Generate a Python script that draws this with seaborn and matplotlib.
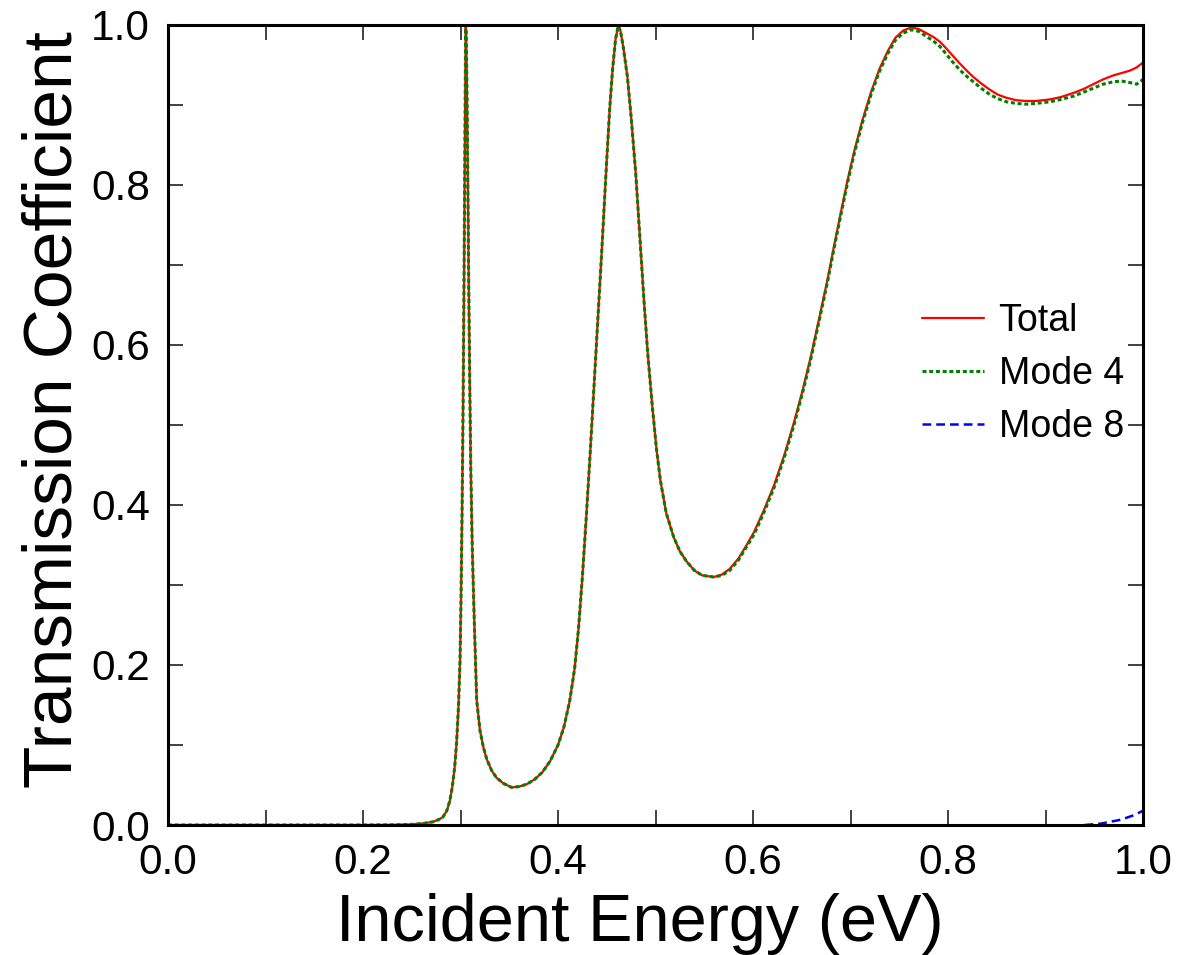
import matplotlib
matplotlib.use("Agg")
import matplotlib.pyplot as plt
import seaborn as sns
from matplotlib.ticker import MultipleLocator

# ---------------- data ----------------
# part A: Total and Mode 4 coincide
energy_a = [0.0, 0.10, 0.20, 0.23, 0.25, 0.262, 0.272, 0.278, 0.282, 0.286,
            0.289, 0.2915, 0.294, 0.296, 0.298, 0.2995, 0.3005, 0.3015, 0.3025,
            0.3035, 0.3043, 0.3049, 0.3053, 0.3058, 0.3065, 0.3075, 0.3085,
            0.3095, 0.3105, 0.312, 0.314, 0.3166, 0.320, 0.3235, 0.327, 0.332,
            0.337, 0.344, 0.3525, 0.360, 0.368, 0.376, 0.384, 0.392, 0.400,
            0.406, 0.412, 0.417, 0.421, 0.425, 0.429, 0.433, 0.437, 0.441,
            0.445, 0.449, 0.453, 0.456, 0.459, 0.4617, 0.464, 0.467, 0.4712,
            0.475, 0.4797, 0.484, 0.4882, 0.492, 0.4966, 0.501, 0.5051, 0.511,
            0.5186, 0.525, 0.5322, 0.540, 0.548, 0.5598]
total_a = [0.0, 0.0, 0.0, 0.0002, 0.0008, 0.002, 0.004, 0.007, 0.010, 0.018,
           0.030, 0.047, 0.072, 0.103, 0.150, 0.205, 0.28, 0.38, 0.50,
           0.66, 0.82, 0.95, 1.0, 0.99, 0.93, 0.81, 0.67,
           0.55, 0.45, 0.35, 0.26, 0.156, 0.118, 0.097, 0.082, 0.068,
           0.059, 0.052, 0.047, 0.048, 0.051, 0.057, 0.066, 0.080, 0.100,
           0.122, 0.155, 0.195, 0.245, 0.31, 0.385, 0.465, 0.55, 0.635,
           0.72, 0.81, 0.895, 0.945, 0.982, 0.999, 0.993, 0.972, 0.935,
           0.885, 0.815, 0.735, 0.655, 0.59, 0.525, 0.47, 0.43, 0.39,
           0.360, 0.342, 0.329, 0.318, 0.312, 0.310]

# part B: Total and Mode 4 separate slightly
energy_b = [0.568, 0.576, 0.585, 0.593, 0.601, 0.611, 0.6217, 0.632, 0.642,
            0.651, 0.6594, 0.668, 0.6766, 0.683, 0.690, 0.697, 0.704, 0.712,
            0.7213, 0.730, 0.7385, 0.746, 0.754, 0.7626, 0.770, 0.7775, 0.785,
            0.7918, 0.798, 0.8039, 0.812, 0.820, 0.826, 0.834, 0.843, 0.851,
            0.860, 0.870, 0.880, 0.890, 0.9046, 0.916, 0.9285, 0.939, 0.949,
            0.959, 0.9696, 0.978, 0.9867, 0.9935, 1.0]
total_b = [0.313, 0.320, 0.333, 0.349, 0.366, 0.393, 0.425, 0.462, 0.503,
           0.544, 0.586, 0.634, 0.683, 0.723, 0.765, 0.806, 0.843, 0.880,
           0.917, 0.946, 0.968, 0.984, 0.993, 0.997, 0.995, 0.990, 0.985,
           0.979, 0.971, 0.963, 0.952, 0.942, 0.935, 0.927, 0.919, 0.913,
           0.909, 0.906, 0.905, 0.905, 0.907, 0.910, 0.915, 0.920, 0.926,
           0.932, 0.937, 0.940, 0.943, 0.947, 0.953]
mode4_b = [0.312, 0.318, 0.331, 0.347, 0.363, 0.390, 0.422, 0.459, 0.500,
           0.541, 0.583, 0.631, 0.680, 0.720, 0.762, 0.803, 0.840, 0.877,
           0.914, 0.943, 0.965, 0.981, 0.990, 0.994, 0.992, 0.986, 0.980,
           0.973, 0.964, 0.955, 0.944, 0.935, 0.929, 0.921, 0.913, 0.908,
           0.904, 0.902, 0.901, 0.902, 0.904, 0.907, 0.911, 0.916, 0.921,
           0.926, 0.929, 0.930, 0.928, 0.926, 0.932]

energy8 = [0.94, 0.950, 0.958, 0.966, 0.975, 0.983, 0.990, 0.997, 1.0]
mode8 = [0.0, 0.001, 0.002, 0.004, 0.006, 0.009, 0.012, 0.016, 0.018]

x_ticks = [0.0, 0.2, 0.4, 0.6, 0.8, 1.0]
y_ticks = [0.0, 0.2, 0.4, 0.6, 0.8, 1.0]

energy = energy_a + energy_b
total = total_a + total_b
mode4 = total_a + mode4_b

# ---------------- style ----------------
sns.set_style("ticks")
plt.rcParams["font.family"] = ["Liberation Sans", "DejaVu Sans"]
plt.rcParams["text.color"] = "black"
plt.rcParams["axes.labelcolor"] = "black"
plt.rcParams["xtick.color"] = "black"
plt.rcParams["ytick.color"] = "black"

fig = plt.figure(figsize=(11.79, 9.55), dpi=100)
ax = fig.add_axes([168 / 1179, 130 / 955, 975 / 1179, 800 / 955])

sns.lineplot(x=energy, y=total, ax=ax, color="#ff0000", linewidth=1.6,
             estimator=None, label="Total")
sns.lineplot(x=energy, y=mode4, ax=ax, color="#008000", linewidth=2.2,
             estimator=None, label="Mode 4", linestyle=(0, (1.3, 0.9)))
sns.lineplot(x=energy8, y=mode8, ax=ax, color="#0000ff", linewidth=1.8,
             estimator=None, label="Mode 8", linestyle=(0, (3.5, 2.0)))

ax.set_xlim(0, 1.0)
ax.set_ylim(0, 1.0)
ax.set_xticks(x_ticks)
ax.set_yticks(y_ticks)
ax.set_xticklabels([f"{v:.1f}" for v in x_ticks])
ax.set_yticklabels([f"{v:.1f}" for v in y_ticks])
ax.xaxis.set_minor_locator(MultipleLocator(0.1))
ax.yaxis.set_minor_locator(MultipleLocator(0.1))

for s in ax.spines.values():
    s.set_visible(True)
    s.set_linewidth(2.2)
    s.set_color("black")

ax.tick_params(which="both", direction="in", top=True, right=True,
               length=10.5, width=1.3, color="#333333")
ax.tick_params(which="major", labelsize=30.5, pad=13, labelcolor="black")

ax.set_xlabel("Incident Energy (eV)", fontsize=48, color="black")
ax.set_ylabel("Transmission Coefficient", fontsize=50, color="black")
ax.xaxis.set_label_coords(0.484, -0.085)
ax.yaxis.set_label_coords(-0.085, 0.519)

leg = ax.legend(loc="center left", bbox_to_anchor=(0.773, 0.564),
                frameon=False, fontsize=27, handlelength=1.65,
                handletextpad=0.4, labelspacing=0.45, borderpad=0,
                borderaxespad=0)
for t in leg.get_texts():
    t.set_color("black")

fig.savefig("out.png", dpi=100)
